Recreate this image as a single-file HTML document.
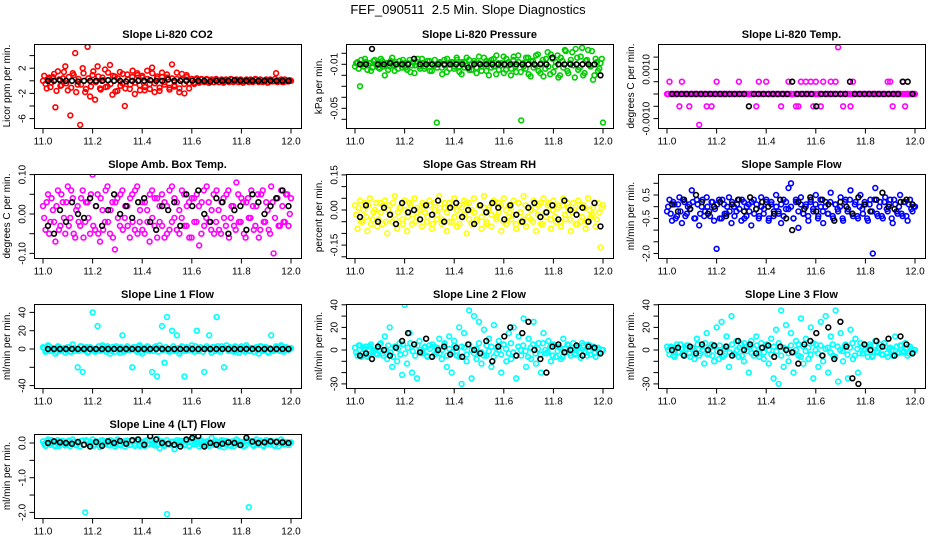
<!DOCTYPE html>
<html><head><meta charset="utf-8"><style>
html,body{margin:0;padding:0;background:#fff;}
svg{display:block;font-family:"Liberation Sans",Arial,sans-serif;}
</style></head><body>
<svg id="chart" width="936" height="540" viewBox="0 0 936 540" xmlns="http://www.w3.org/2000/svg">
<rect width="936" height="540" fill="#fff"/>
<text x="468" y="14" text-anchor="middle" font-size="13">FEF_090511&#160; 2.5 Min. Slope Diagnostics</text>
</svg>
<script>
const xTicks=[11.0,11.2,11.4,11.6,11.8,12.0];
const xTickLabels=["11.0","11.2","11.4","11.6","11.8","12.0"];

const co2Color=[0,-0.5,0.3,-1,0.6,-4.2,1.5,-0.8,0.4,2.3,-1.5,-5.5,1.2,4.4,-0.6,-7,2,-1.8,5.4,-2.5,0.9,-3,2.3,-1.2,0.5,1.8,-0.9,2.5,-2.2,0.7,-1.6,1.4,-0.4,-4,1,-1.3,0.6,-2.1,1.2,-0.7,0.8,-1.5,1.6,-0.5,2.1,-1.8,0.4,-1.1,1.3,-0.6,0.5,-1.4,2.6,-0.9,0.3,-1.2,1.1,-2,0.6,-0.4,0.3,-0.5,0.4,-0.3,0.2,-0.2,0.3,-0.3,0.2,-0.2,0.1,-0.2,0.2,-0.1,0.1,-0.2,0.2,-0.1,0.2,-0.2,0.1,-0.1,0.2,-0.2,0.1,-0.1,0.2,-0.2,0.1,-0.1,0.2,-0.2,0.1,-0.1,1.2,-0.1,0.2,-0.2,0.1,-0.1,0];
const co2Color2=[0.8,-1.2,0.5,-0.3,1.1,-1.6,0.2,-0.7,1.4,-0.4,0.6,-1.1,0.9,-1.8,0.3,-0.6,1.2,-1.3,0.4,-0.9,1.5,-0.2,0.7,-1.4,0.1,-1,1.3,-0.5,0.8,-1.7,0.4,-0.8,1.1,-1.2,0.2,-0.6,1.6,-0.3,0.9,-1.5,0.5,-1,0.3,-1.3,1.2,-0.4,0.7,-1.6,0.6,-0.2,1,-1.1,0.4,-0.7,1.3,-1.8,0.2,-0.5,0.9,-1.2,0.3,-0.3,0.2,-0.2,0.3,-0.1,0.2,-0.3,0.1,-0.2,0.3,-0.2,0.1,-0.3,0.2,-0.1,0.3,-0.2,0.1,-0.2,0.2,-0.3,0.1,-0.1,0.2,-0.2,0.3,-0.1,0.2,-0.2,0.1,-0.3,0.2,-0.1,0.3,-0.2,0.1,-0.2,0.2,-0.1,0.1];
const co2Black=[0,0,0.1,0,0,-0.1,0,0,0,0,0.1,0,0,-0.1,0,0,0,0.1,0,0,0.2,0,0,0,0,0,0,-0.1,0,0,0,0.1,0,0,0,0,0,0,0,0,0];
const presColor=[-0.012,-0.008,-0.03,-0.01,-0.005,-0.015,-0.009,-0.013,-0.006,-0.011,-0.014,-0.007,-0.02,-0.009,-0.012,-0.004,-0.016,-0.01,-0.007,-0.013,-0.009,-0.015,-0.006,-0.011,-0.018,-0.008,-0.012,-0.005,-0.014,-0.01,-0.007,-0.016,-0.011,-0.063,-0.009,-0.013,-0.006,-0.017,-0.01,-0.008,-0.014,-0.004,-0.012,-0.019,-0.008,-0.011,-0.006,-0.015,-0.009,-0.013,-0.003,-0.016,-0.01,-0.007,-0.02,-0.006,-0.012,-0.002,-0.015,-0.009,-0.018,-0.005,-0.011,-0.014,-0.003,-0.017,-0.008,-0.061,-0.012,-0.004,-0.019,-0.007,-0.013,-0.002,-0.016,-0.009,-0.021,-0.005,-0.012,-0.001,-0.017,-0.008,-0.022,-0.004,-0.013,0.002,-0.018,-0.006,-0.011,0.004,-0.015,-0.003,-0.02,-0.007,0.003,-0.012,-0.024,-0.005,-0.016,-0.009,-0.063];
const presColor2=[-0.009,-0.014,-0.006,-0.012,-0.008,-0.011,-0.016,-0.007,-0.01,-0.013,-0.005,-0.012,-0.009,-0.015,-0.007,-0.011,-0.008,-0.014,-0.01,-0.006,-0.013,-0.009,-0.017,-0.008,-0.011,-0.005,-0.014,-0.009,-0.012,-0.007,-0.016,-0.01,-0.006,-0.013,-0.008,-0.019,-0.011,-0.005,-0.014,-0.009,-0.012,-0.006,-0.017,-0.008,-0.013,-0.004,-0.015,-0.01,-0.007,-0.018,-0.009,-0.012,-0.004,-0.016,-0.008,-0.013,-0.005,-0.019,-0.009,-0.011,-0.003,-0.015,-0.008,-0.02,-0.006,-0.012,-0.002,-0.017,-0.009,-0.014,-0.004,-0.021,-0.007,-0.011,-0.001,-0.018,-0.006,-0.014,0.001,-0.019,-0.005,-0.012,-0.002,-0.02,-0.007,0.003,-0.016,-0.009,0.001,-0.022,-0.004,-0.013,0.005,-0.018,-0.006,-0.011,0.002,-0.02,-0.008,-0.014,-0.005];
const presBlack=[-0.01,-0.01,0.004,-0.01,-0.01,-0.009,-0.01,-0.01,-0.01,-0.005,-0.01,-0.01,-0.01,-0.01,-0.01,-0.01,-0.01,-0.01,-0.013,-0.01,-0.01,-0.01,-0.01,-0.01,-0.01,-0.01,-0.01,-0.01,-0.01,-0.01,-0.01,-0.01,-0.004,-0.01,-0.01,-0.01,-0.01,-0.01,-0.01,-0.01,-0.02];
const tempColor=[0,0.0005,0,0,0,-0.0005,0.0005,0,0,-0.0005,0,0,0,-0.00125,0,0,-0.0005,0,-0.0005,0,0.0005,0,0,0,0,0,0,0,0,0.0005,0,0,0,0,0,0,-0.0005,0.0005,0,0,0.0005,0,0,0,0,0,-0.0005,0,0,0.0005,0,0,-0.0005,-0.0005,0.0005,0,0.0005,0,0.0005,-0.0005,0.0005,0,-0.0005,0.0005,0,0,0.0005,0,0.0005,0.0019,0,-0.0005,0,0,-0.0005,0.0005,0,0,0,0,0,0,0,0,0,0,0,0,0,0.0005,0.0005,-0.0005,0,0,0,0.0005,-0.0005,0,0,0,0];
const tempColor2=[0,0,0,0,0,0,0,0,0,0,0,0,0,0,0,0,0,0,0,0,0,0,0,0,0,0,0,0,0,0,0,0,0,0,0,0,0,0,0,0,0,0,0,0,0,0,0,0,0,0,0,0,0,0,0,0,0,0,0,0,0,0,0,0,0,0,0,0,0,0,0,0,0,0,0,0,0,0,0,0,0,0,0,0,0,0,0,0,0,0,0,0,0,0,0,0,0,0,0,0,0];
const tempBlack=[0,0,0,0,0,0,0,0,0,0,0,0,0,0,0,0,-0.0005,0,0,0,0,0,0,0,0,0.0005,0,0,0,0,-0.0005,0,0,0,0,0,0,0.0005,0,0,0,0,0,0,0,0,0,0,0.0005,0.0005,0];
const ambColor=[0.02,-0.04,0.05,-0.02,0.01,-0.07,0.06,-0.03,0.03,-0.05,0.07,-0.01,0.04,-0.06,0.02,-0.03,0.06,-0.02,0.03,-0.05,0.1,-0.04,0.05,-0.07,0.01,-0.02,0.07,-0.05,0.03,-0.09,0.04,-0.03,0.06,-0.01,0.02,-0.06,0.05,-0.04,0.07,-0.02,0.03,-0.05,0.01,-0.07,0.06,-0.03,0.04,-0.02,0.05,-0.06,0.02,-0.04,0.07,-0.01,0.03,-0.05,0.06,-0.03,0.02,-0.06,0.04,-0.02,0.05,-0.08,0.03,-0.03,0.07,-0.02,0.01,-0.05,0.06,-0.04,0.03,-0.01,0.05,-0.06,0.02,-0.03,0.08,-0.02,0.04,-0.05,0.03,-0.01,0.06,-0.04,0.02,-0.06,0.05,-0.02,0.03,-0.04,0.07,-0.1,0.04,-0.03,0.06,-0.02,0.05,-0.03,0.04];
const ambColor2=[-0.01,0.03,-0.05,0.04,-0.02,0.02,-0.04,0.05,-0.01,0.03,-0.03,0.06,-0.05,0.01,-0.02,0.04,-0.06,0.03,-0.01,0.05,-0.03,0.02,-0.05,0.04,-0.04,0.06,-0.02,0.01,-0.06,0.03,-0.01,0.05,-0.04,0.02,-0.03,0.04,-0.02,0.06,-0.05,0.01,-0.04,0.03,-0.02,0.05,-0.01,0.04,-0.06,0.02,-0.03,0.03,-0.05,0.06,-0.02,0.04,-0.04,0.01,-0.01,0.05,-0.03,0.03,-0.06,0.04,-0.02,0.02,-0.05,0.06,-0.01,0.03,-0.04,0.05,-0.02,0.01,-0.05,0.04,-0.03,0.06,-0.01,0.02,-0.04,0.05,-0.02,0.03,-0.06,0.04,-0.01,0.02,-0.03,0.05,-0.04,0.06,-0.02,0.01,-0.05,0.03,-0.01,0.04,-0.03,0.02,-0.02,0.05,0];
const ambBlack=[-0.03,-0.05,0.01,-0.02,0.03,0,-0.01,0.04,0.02,-0.03,0.01,0.05,0,0.02,-0.01,0.03,0.04,-0.02,-0.04,0.02,0.01,0.03,-0.03,0.05,0.02,0.06,0,-0.02,0.04,0.03,-0.05,0.01,0.02,-0.04,0.05,0.03,0,0.02,0.04,0.06,0.02];
const rhColor=[0.02,-0.08,0.04,-0.05,0.03,-0.09,0.05,-0.04,0,-0.07,0.03,-0.06,0.04,-0.1,0.02,-0.05,0.06,-0.08,0.01,-0.04,0.04,-0.09,0.03,-0.06,0.05,-0.03,0,-0.07,0.02,-0.05,0.04,-0.08,0.03,-0.04,0.06,-0.06,0.01,-0.09,0.03,-0.05,0.05,-0.07,0.02,-0.03,0.04,-0.1,0.03,-0.06,0.05,-0.04,0.02,-0.08,0.06,-0.05,0.01,-0.07,0.04,-0.03,0.03,-0.09,0.05,-0.06,0.02,-0.04,0.04,-0.08,0.03,-0.05,0.06,-0.07,0.01,-0.04,0.04,-0.09,0.02,-0.06,0.05,-0.03,0.03,-0.08,0.04,-0.05,0.02,-0.07,0.05,-0.04,0.01,-0.09,0.03,-0.06,0.04,-0.05,0.02,-0.08,0.05,-0.03,0.01,-0.07,0.03,-0.16,0.02];
const rhColor2=[-0.02,0.01,-0.05,0,-0.03,0.02,-0.06,-0.01,0.03,-0.04,-0.01,0.02,-0.05,0,-0.02,0.03,-0.04,-0.01,0.01,-0.06,0,-0.03,0.02,-0.02,-0.05,0.01,-0.04,0.03,-0.01,-0.03,0.02,-0.06,0,-0.02,0.01,-0.04,0.03,-0.01,-0.05,0.02,-0.03,0,-0.06,0.01,-0.02,0.03,-0.04,0,-0.01,-0.05,0.02,-0.03,0.01,-0.06,0,-0.02,0.03,-0.04,-0.01,0.02,-0.05,0,-0.03,0.01,-0.02,-0.06,0.03,-0.01,-0.04,0.02,-0.03,0,-0.05,0.01,-0.02,0.03,-0.06,-0.01,0.02,-0.04,0,-0.03,0.01,-0.05,0.02,-0.02,0.03,-0.04,-0.01,0,-0.06,0.02,-0.03,0.01,-0.05,0,-0.02,0.03,-0.04,-0.01,0.01];
const rhBlack=[-0.03,0.02,0.17,-0.05,0.01,-0.02,-0.06,0.03,-0.01,0,-0.04,0.02,-0.02,0.04,-0.05,0.01,0.03,-0.03,0,-0.06,0.02,-0.01,0.03,0.01,-0.04,0.02,-0.02,-0.05,0.01,0.03,-0.03,-0.01,0.02,-0.04,0.04,0,-0.02,0.01,-0.05,0.03,-0.07];
const flowColor=[-0.2,0.3,-0.6,0.1,-0.4,0.4,-0.7,0.2,-0.3,0.1,0.7,-0.5,0.3,-0.8,0,-0.4,0.4,-0.2,0.2,-0.6,-1.8,0.3,-0.5,0.1,-0.3,0.4,-0.7,0,-0.2,0.3,-0.6,0.2,-0.4,0.1,-0.8,0.3,-0.1,-0.5,0.4,-0.3,0.2,-0.6,0.1,-0.4,0.5,-0.2,-0.7,0.3,-0.1,0.8,1,-0.5,0.2,-0.9,0.4,-0.3,0.1,-0.6,0.3,-0.2,0.5,-0.4,0,-0.7,0.2,-0.3,0.6,-0.5,0.1,-0.2,0.4,-0.6,0.3,-0.1,0.7,-0.4,0.2,-0.5,0.5,-0.3,0.1,-0.6,0.3,-2,0.8,-0.4,0.2,-0.5,0.4,-0.2,0.3,-0.7,0.1,-0.3,0.5,-0.4,0.2,-0.6,0.3,-0.2,0];
const flowColor2=[0,-0.3,0.2,-0.5,0.1,-0.2,0.3,-0.4,0,-0.1,0.2,-0.5,0.1,-0.3,0.3,-0.2,0,-0.4,0.2,-0.1,0.1,-0.5,0.3,-0.3,0,-0.2,0.2,-0.4,0.1,-0.1,0.3,-0.5,0,-0.2,0.2,-0.3,0.1,-0.4,0,-0.1,0.3,-0.5,0.2,-0.2,0,-0.3,0.1,-0.4,0.2,-0.1,0,-0.5,0.3,-0.2,0.1,-0.3,0,-0.4,0.2,-0.1,0.1,-0.5,0.3,-0.2,0,-0.3,0.2,-0.4,0.1,-0.1,0,-0.5,0.2,-0.2,0.3,-0.3,0.1,-0.4,0,-0.1,0.2,-0.5,0.1,-0.2,0.3,-0.3,0,-0.4,0.2,-0.1,0.1,-0.5,0.3,-0.2,0,-0.3,0.2,-0.4,0.1,-0.1,0];
const flowBlack=[0.1,-0.2,0.3,-0.1,0.5,0.2,-0.3,0,0.2,-0.4,0.1,0.3,-0.2,0.4,-0.1,0.2,0,-0.3,0.3,-0.5,-1,0.2,-0.1,0.4,-0.2,0.3,0.1,-0.6,0.2,0,-0.3,0.4,0.1,-0.2,0.3,0.6,0,-0.1,0.2,0.3,0.1];
const l1Color=[2,-3,4,-2,1,-5,3,-1,0,-4,2,-3,5,-2,-20,3,-25,1,-4,2,40,-3,25,-2,4,-1,3,-5,2,-3,1,-4,15,-2,3,-1,-20,2,-3,4,-5,1,3,-2,-25,2,-30,4,25,-15,35,-3,20,-2,15,-5,3,-30,2,-1,4,-3,20,-2,1,-25,3,15,-4,2,35,-1,3,-20,4,-2,1,-3,2,-4,3,-1,4,-2,1,-3,2,-5,3,-1,2,-4,15,-2,3,-1,4,-3,2,-1,1];
const l1Color2=[1,-2,3,-1,0,-3,2,-2,1,-1,2,-3,1,0,-2,3,-1,2,-3,1,0,-2,3,-1,2,-3,1,-2,0,3,-1,2,-3,1,-1,0,2,-2,3,-3,1,-1,2,0,-2,3,-3,1,-1,2,-2,0,3,-1,1,-3,2,-2,0,1,-1,3,-2,2,-3,0,1,-1,2,-2,3,-3,0,1,-1,2,-2,3,-1,0,1,-3,2,-2,1,0,-1,3,-2,2,-3,1,-1,0,2,-2,3,-1,1,0];
const l1Black=[0,0,0,0,0,0,0,0,0,0,0,0,0,0,0,0,0,0,0,0,0,0,0,0,0,0,0,0,0,0,0,0,0,0,0,0,0,0,0,0,0];
const l2Color=[2,-5,4,-3,1,-6,3,-2,0,-4,5,-3,12,-8,20,-15,3,-10,6,-22,40,-12,15,-20,5,-25,8,-3,2,-5,4,-6,3,-2,10,-8,5,-15,12,-20,8,-5,20,-30,15,-10,35,-25,30,-8,25,-12,18,-5,10,-15,22,-3,8,-20,5,-10,15,-8,20,-25,12,-5,28,-15,10,-8,25,-12,6,-20,15,-3,8,-10,5,-6,3,-8,10,-2,4,-5,6,-3,2,-7,4,-2,5,-4,3,-6,2,-3,0];
const l2Color2=[-2,4,-6,1,3,-4,5,-1,-3,2,6,-5,0,4,-2,-6,3,1,-4,5,-3,2,6,-1,-5,4,0,-2,3,-6,1,5,-4,2,-3,0,6,-5,1,-2,4,-1,-6,3,2,-4,5,0,-3,1,6,-2,-5,4,-1,3,-6,2,0,-4,5,1,-3,6,-2,-5,3,0,4,-1,-6,2,5,-3,1,-4,6,0,-2,3,-5,4,-1,2,-6,1,5,-3,0,-4,3,-2,6,-1,-5,4,2,-3,1,-2,0];
const l2Black=[-5,-3,-8,3,0,-5,2,8,15,5,-2,10,-6,0,3,-4,2,-6,5,0,-3,8,-10,3,12,20,-5,15,25,0,-8,-20,3,5,-2,0,4,-5,3,2,-3];
const l3Color=[3,-4,2,-6,5,-2,1,-5,4,-3,2,-8,10,-5,3,-12,15,-3,5,-10,20,-8,25,-5,12,-15,30,-3,8,-6,5,-10,3,-20,8,-5,12,-3,6,-8,4,-12,10,-25,18,-30,35,-15,22,-10,15,-20,8,-5,28,-12,10,-8,20,-25,5,-15,25,-10,30,-20,12,-5,35,-28,15,-10,5,-25,18,-8,10,-20,6,-3,4,-6,3,-5,8,-2,5,-4,3,-6,2,-5,12,-3,4,-2,6,-5,3,-2,0];
const l3Color2=[0,3,-5,2,-2,5,-4,1,4,-6,2,-1,5,-3,0,6,-4,2,-5,3,-1,4,-6,1,3,-2,5,-4,0,2,-5,6,-1,3,-3,1,4,-6,2,-2,5,0,-4,3,-1,6,-5,2,1,-3,4,-2,0,5,-6,3,-1,2,-4,6,0,-3,4,-5,1,2,-2,5,-6,3,0,-1,4,-4,2,6,-5,1,-3,3,0,-2,5,-6,4,-1,2,-4,6,-3,1,0,-5,3,-2,4,-1,2,-3,1,0];
const l3Black=[0,2,-5,3,-3,5,0,4,-2,3,-5,8,0,5,-3,2,4,-6,3,0,-2,-12,5,8,15,-5,20,-8,25,3,-25,-30,5,0,8,3,10,-5,12,5,-3];
const l4Color=[0.05,-0.08,0.1,-0.05,0.02,-0.1,0.08,-0.03,0.06,-0.07,0.04,-0.09,0.1,-0.04,0.03,-0.1,0.07,-2,0.05,-0.08,0.1,-0.05,0.02,-0.12,0.08,-0.03,0.06,-0.07,0.04,-0.1,0.1,-0.04,0.03,-0.1,0.07,-0.06,0.05,-0.08,0.1,-0.05,0.02,-0.09,0.08,-0.03,0.06,-0.07,0.12,-0.15,0.05,-0.08,-2.05,-0.05,0.02,-0.18,0.08,-0.03,0.06,-0.07,0.04,-0.1,0.1,-0.04,0.03,-0.1,0.07,-0.06,0.05,-0.08,0.15,-0.05,0.02,-0.09,0.08,-0.12,0.06,-0.07,0.04,-0.09,0.1,-0.04,0.03,-0.1,0.07,-1.85,0.05,-0.08,0.1,-0.05,0.02,-0.1,0.08,-0.03,0.06,-0.07,0.04,-0.09,0.1,-0.04,0.03,-0.06,0.02];
const l4Color2=[-0.03,0.06,-0.01,0.08,-0.06,0.03,-0.08,0.05,0,-0.04,0.07,-0.02,0.04,-0.07,0.01,0.06,-0.05,0.08,-0.02,0.03,-0.08,0.05,-0.01,0.07,-0.04,0.02,-0.06,0.08,0,-0.03,0.05,-0.07,0.02,0.06,-0.01,-0.05,0.08,-0.02,0.04,-0.08,0.01,0.06,-0.04,0.07,-0.02,0.03,-0.07,0.05,0,-0.05,0.08,-0.03,0.04,-0.06,0.02,0.07,-0.01,-0.04,0.06,-0.08,0.03,0.05,-0.02,0.08,-0.05,0.01,-0.07,0.04,0,-0.03,0.06,-0.06,0.02,0.07,-0.04,0.03,-0.08,0.05,-0.01,0.06,-0.03,0.02,-0.07,0.08,0,-0.05,0.04,-0.02,0.07,-0.06,0.01,0.05,-0.04,0.03,-0.08,0.06,-0.01,0.04,-0.03,0.02,0];
const l4Black=[0,0.05,0.02,0,-0.02,0.03,-0.05,-0.1,0.03,-0.08,0.05,0,0.06,-0.02,0.08,0.1,-0.05,0.2,0.1,0,-0.02,-0.05,-0.1,0.1,0.15,0.2,-0.1,0,-0.05,-0.02,0.02,0,-0.06,0.15,0.04,0,0.02,0.05,0.03,0.02,0];

const NS="http://www.w3.org/2000/svg";
const svg=document.getElementById('chart');
function mk(tag,attrs,parent){const e=document.createElementNS(NS,tag);for(const k in attrs)e.setAttribute(k,attrs[k]);(parent||svg).appendChild(e);return e;}

const panels=[
 {key:'co2',title:'Slope Li-820 CO2',ylab:'Licor ppm per min.',left:34,top:44,zero:80.8,k:6.3,ticks:[-6,-4,-2,0,2,4],labels:[[2,'2'],[-2,'-2'],[-6,'-6']],color:'#ff0000',c:co2Color,c2:co2Color2,b:co2Black},
 {key:'pressure',title:'Slope Li-820 Pressure',ylab:'kPa per min.',left:346,top:44,zero:53.3,k:1100,ticks:[0,-0.01,-0.02,-0.03,-0.04,-0.05,-0.06],labels:[[-0.01,'-0.01'],[-0.05,'-0.05']],color:'#00cd00',c:presColor,c2:presColor2,b:presBlack},
 {key:'temp',title:'Slope Li-820 Temp.',ylab:'degrees C per min.',left:658,top:44,zero:94,k:24600,ticks:[-0.001,-0.0005,0,0.0005,0.001,0.0015],labels:[[0.001,'0.0010'],[-0.001,'-0.0010']],color:'#ff00ff',c:tempColor,c2:tempColor2,b:tempBlack},
 {key:'amb-box-temp',title:'Slope Amb. Box Temp.',ylab:'degrees C per min.',left:34,top:174,zero:214,k:394,ticks:[-0.1,-0.05,0,0.05,0.1],labels:[[0.1,'0.10'],[0,'0.00'],[-0.1,'-0.10']],color:'#ff00ff',c:ambColor,c2:ambColor2,b:ambBlack},
 {key:'gas-rh',title:'Slope Gas Stream RH',ylab:'percent per min.',left:346,top:174,zero:210,k:234,ticks:[-0.2,-0.15,-0.1,-0.05,0,0.05,0.1,0.15],labels:[[0.15,'0.15'],[0,'0.00'],[-0.15,'-0.15']],color:'#ffff00',c:rhColor,c2:rhColor2,b:rhBlack},
 {key:'sample-flow',title:'Slope Sample Flow',ylab:'ml/min per min.',left:658,top:174,zero:206.7,k:23.4,ticks:[-2,-1.5,-1,-0.5,0,0.5,1],labels:[[0.5,'0.5'],[-0.5,'-0.5'],[-2,'-2.0']],color:'#0000ff',c:flowColor,c2:flowColor2,b:flowBlack},
 {key:'line1-flow',title:'Slope Line 1 Flow',ylab:'ml/min per min.',left:34,top:304,zero:349,k:0.915,ticks:[-40,-20,0,20,40],labels:[[40,'40'],[20,'20'],[0,'0'],[-40,'-40']],color:'#00ffff',c:l1Color,c2:l1Color2,b:l1Black},
 {key:'line2-flow',title:'Slope Line 2 Flow',ylab:'ml/min per min.',left:346,top:304,zero:350,k:1.13,ticks:[-30,-20,-10,0,10,20,30,40],labels:[[40,'40'],[20,'20'],[0,'0'],[-30,'-30']],color:'#00ffff',c:l2Color,c2:l2Color2,b:l2Black},
 {key:'line3-flow',title:'Slope Line 3 Flow',ylab:'ml/min per min.',left:658,top:304,zero:350,k:1.13,ticks:[-30,-20,-10,0,10,20,30,40],labels:[[40,'40'],[20,'20'],[0,'0'],[-30,'-30']],color:'#00ffff',c:l3Color,c2:l3Color2,b:l3Black},
 {key:'line4-flow',title:'Slope Line 4 (LT) Flow',ylab:'ml/min per min.',left:34,top:434,zero:443,k:34.7,ticks:[-2,-1.5,-1,-0.5,0],labels:[[0,'0.0'],[-1,'-1.0'],[-2,'-2.0']],color:'#00ffff',c:l4Color,c2:l4Color2,b:l4Black}
];

const W=267,H=84;
panels.forEach((p,pi)=>{
  const g=mk('g',{});
  
  
  const xs=v=>p.left+9+(v-11)*248;
  const ys=v=>p.zero-p.k*v;
  const clipId='clip'+pi;
  const cp=mk('clipPath',{id:clipId},g);
  mk('rect',{x:p.left,y:p.top,width:W,height:H},cp);
  const t=mk('text',{x:p.left+W/2,y:p.top-6,'text-anchor':'middle','font-size':'11','font-weight':'bold'},g);
  t.textContent=p.title;
  
  
  const pts=mk('g',{'clip-path':'url(#'+clipId+')',fill:'none','stroke-width':'1.6'},g);
  const cg=mk('g',{stroke:p.color},pts);
  
  
  const n2=p.c2.length;
  p.c2.forEach((v,i)=>{
    const c=mk('circle',{cx:xs(11.005+0.99*i/(n2-1)).toFixed(1),cy:ys(v).toFixed(1),r:2.4},cg);
    
    
  });
  const n=p.c.length;
  p.c.forEach((v,i)=>{
    const c=mk('circle',{cx:xs(11+i/(n-1)).toFixed(1),cy:ys(v).toFixed(1),r:2.4},cg);
    
    
  });
  const nb=p.b.length;
  const bg=mk('g',{stroke:'#000'},pts);
  
  
  p.b.forEach((v,i)=>{
    const c=mk('circle',{cx:xs(11.02+0.97*i/(nb-1)).toFixed(1),cy:ys(v).toFixed(1),r:2.4},bg);
    
    
  });
  const box=mk('rect',{x:p.left+0.5,y:p.top+0.5,width:W,height:H,fill:'none',stroke:'#000','stroke-width':'1'},g);
  
  
  const xa=mk('g',{stroke:'#000','stroke-width':'1'},g);
  
  
  const by=p.top+H+0.5;
  mk('line',{x1:xs(11),x2:xs(12),y1:by,y2:by},xa);
  xTicks.forEach((v,i)=>{
    mk('line',{x1:xs(v),x2:xs(v),y1:by,y2:by+5},xa);
    const tl=mk('text',{x:xs(v),y:by+16,'text-anchor':'middle','font-size':'10',stroke:'none',fill:'#000'},xa);
    tl.textContent=xTickLabels[i];
  });
  const ya=mk('g',{stroke:'#000','stroke-width':'1'},g);
  
  
  const lx=p.left+0.5;
  const tmin=Math.min(...p.ticks),tmax=Math.max(...p.ticks);
  mk('line',{x1:lx,x2:lx,y1:ys(tmin),y2:ys(tmax)},ya);
  p.ticks.forEach(v=>{mk('line',{x1:lx-5,x2:lx,y1:ys(v),y2:ys(v)},ya);});
  p.labels.forEach(([v,s])=>{
    const yy=ys(v),xx=lx-9;
    const tl=mk('text',{x:xx,y:yy,'text-anchor':'middle','font-size':'10',stroke:'none',fill:'#000',transform:`rotate(-90 ${xx} ${yy})`},ya);
    tl.textContent=s;
  });
  const yt=mk('text',{x:p.left-24,y:p.top+H/2,'text-anchor':'middle','font-size':'10',transform:`rotate(-90 ${p.left-24} ${p.top+H/2})`},g);
  yt.textContent=p.ylab;
  
  
});
</script>
</body></html>
